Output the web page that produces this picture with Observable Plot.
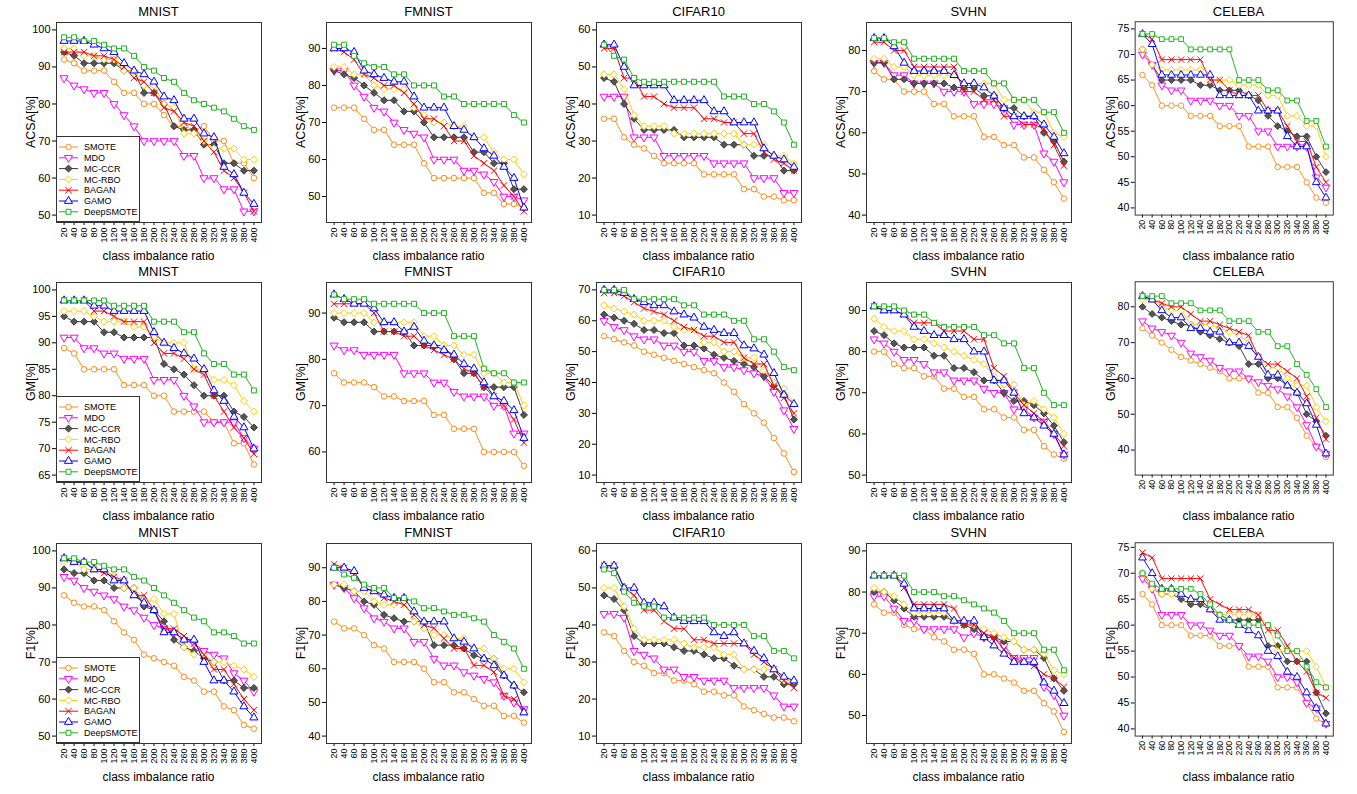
<!DOCTYPE html>
<html><head><meta charset="utf-8">
<script src="https://cdn.jsdelivr.net/npm/d3@7"></script>
<script src="https://cdn.jsdelivr.net/npm/@observablehq/plot@0.6"></script>
<style>
body{margin:0;background:#fff;font-family:"Liberation Sans",Arial,Helvetica,sans-serif;}
#root{position:relative;width:1357px;height:794px;overflow:hidden;background:#fff;}
.panel{position:absolute;}
.title{position:absolute;text-align:center;font-size:13px;line-height:16px;color:#000;white-space:nowrap;}
.xlab{position:absolute;text-align:center;font-size:12px;line-height:14px;color:#000;white-space:nowrap;}
.ylab{position:absolute;text-align:center;font-size:12.5px;line-height:14px;color:#000;white-space:nowrap;transform:rotate(-90deg);}
.legend{position:absolute;background:#fff;}
</style></head>
<body><div id="root"></div>
<script>
// ---------- data ----------
const ratios = [20,40,60,80,100,120,140,160,180,200,220,240,260,280,300,320,340,360,380,400];
const methods = ["SMOTE","MDO","MC-CCR","MC-RBO","BAGAN","GAMO","DeepSMOTE"];
const datasets = ["MNIST","FMNIST","CIFAR10","SVHN","CELEBA"];
const metrics = ["ACSA[%]","GM[%]","F1[%]"];

// y-axis tick labels per panel (rows: ACSA, GM, F1)
const ticksACSA = [[50,60,70,80,90,100],[50,60,70,80,90],[10,20,30,40,50,60],[40,50,60,70,80],[40,45,50,55,60,65,70,75]];
const ticksGM   = [[65,70,75,80,85,90,95,100],[60,70,80,90],[10,20,30,40,50,60,70],[50,60,70,80,90],[40,50,60,70,80]];
const ticksF1   = [[50,60,70,80,90,100],[40,50,60,70,80,90],[10,20,30,40,50,60],[50,60,70,80,90],[40,45,50,55,60,65,70,75]];
// axis limits per panel
const limACSA = [[50,100],[45,95],[10,60],[40,85],[40,75]];
const limGM   = [[65,100],[55,95],[10,70],[50,95],[35,85]];
const limF1   = [[50,100],[40,95],[10,60],[45,90],[40,74.5]];

const acsa_MNIST = {
  "SMOTE":     [92,91,89,89,89,86,83,83,80,80,77,74,74,73,74,70,70,64,64,60],
  "MDO":       [87,85,84,83,83,80,77,74,70,70,70,70,66,66,60,60,57,57,51,51],
  "MC-CCR":    [94,93,91,91,91,91,89,89,83,83,80,74,73,73,69,69,64,64,62,62],
  "MC-RBO":    [95,95,93,93,92,92,89,89,85,85,80,79,72,72,70,68,68,68,65,65],
  "BAGAN":     [94,94,94,93,93,92,90,87,86,83,79,78,75,74,70,67,62,60,56,51],
  "GAMO":      [97,97,97,96,95,94,91,89,88,86,82,81,76,76,72,71,63,61,56,53],
  "DeepSMOTE": [98,98,97,97,96,95,95,93,90,89,87,86,83,81,80,79,78,76,74,73]
};
const acsa_FMNIST = {
  "SMOTE":     [74,74,74,71,68,68,64,64,64,59,55,55,55,55,55,51,51,48,48,47],
  "MDO":       [84,84,80,77,74,73,70,68,67,66,60,60,60,57,57,56,54,50,50,49],
  "MC-CCR":    [84,83,82,80,78,76,76,73,73,70,66,66,66,66,62,62,59,59,52,52],
  "MC-RBO":    [85,85,83,83,80,79,79,79,74,72,70,70,69,69,66,66,62,60,60,56],
  "BAGAN":     [90,89,87,83,82,80,80,78,75,71,71,69,65,65,61,59,57,53,50,46],
  "GAMO":      [90,90,89,84,83,82,81,81,77,74,74,74,69,68,66,63,61,58,55,47],
  "DeepSMOTE": [91,91,88,86,85,85,83,83,80,80,80,77,77,75,75,75,75,75,72,70]
};
const acsa_CIFAR10 = {
  "SMOTE":     [36,36,31,29,28,26,24,24,24,24,21,21,21,21,17,17,15,15,14,14],
  "MDO":       [42,42,42,31,31,31,26,26,26,26,26,24,24,24,24,20,20,20,16,16],
  "MC-CCR":    [47,46,40,36,33,33,33,33,31,31,31,31,29,29,29,26,26,26,22,22],
  "MC-RBO":    [48,48,44,37,34,34,34,32,32,32,32,32,32,32,29,29,29,26,26,24],
  "BAGAN":     [55,55,47,47,42,42,40,39,39,39,36,36,35,35,32,32,27,25,24,22],
  "GAMO":      [56,56,50,45,45,45,45,41,41,41,41,38,38,35,35,35,28,26,25,23],
  "DeepSMOTE": [56,53,52,47,46,46,46,46,46,46,46,46,42,42,42,40,40,38,35,29]
};
const acsa_SVHN = {
  "SMOTE":     [75,73,73,70,70,70,67,67,64,64,64,59,59,57,57,54,54,51,48,44],
  "MDO":       [77,77,74,74,72,72,72,70,70,70,67,67,67,66,62,62,62,55,53,48],
  "MC-CCR":    [77,77,73,73,72,72,72,72,71,71,71,69,69,66,66,64,64,60,58,53],
  "MC-RBO":    [78,78,76,76,74,74,74,74,74,72,72,72,72,68,68,68,65,65,60,59],
  "BAGAN":     [82,82,80,80,76,76,76,76,76,70,70,68,68,64,64,62,62,61,57,52],
  "GAMO":      [83,83,81,77,75,75,75,75,74,72,72,71,69,66,64,64,64,62,59,55],
  "DeepSMOTE": [83,83,82,82,78,78,78,78,78,75,75,75,72,72,68,68,68,65,65,60]
};
const acsa_CELEBA = {
  "SMOTE":     [66,64,60,60,60,58,58,58,56,56,56,52,52,52,48,48,48,45,42,41],
  "MDO":       [70,68,64,63,63,61,61,61,60,60,58,58,55,55,52,52,52,52,46,44],
  "MC-CCR":    [71,68,65,65,65,65,64,64,63,63,63,62,61,58,56,55,54,54,50,47],
  "MC-RBO":    [71,68,67,67,67,67,67,65,65,65,64,64,64,62,62,58,58,56,56,50],
  "BAGAN":     [74,73,69,69,69,69,69,65,65,63,62,62,62,59,59,56,53,53,48,45],
  "GAMO":      [74,72,66,66,66,66,66,66,62,62,62,62,59,59,59,54,52,52,45,42],
  "DeepSMOTE": [74,74,73,73,73,71,71,71,71,71,65,65,65,63,63,61,61,57,57,52]
};

const gm_MNIST = {
  "SMOTE":     [89,88,85,85,85,85,82,82,82,80,80,77,77,77,77,75,75,71,71,67],
  "MDO":       [91,91,89,89,88,88,87,87,87,83,83,83,80,78,75,75,75,75,72,70],
  "MC-CCR":    [95,94,94,94,92,92,91,91,91,91,86,85,84,82,80,80,80,77,76,74],
  "MC-RBO":    [96,96,96,95,94,94,94,93,93,91,90,90,90,85,85,83,83,82,79,77],
  "BAGAN":     [98,98,98,96,96,95,94,94,94,90,88,88,87,85,84,80,77,74,72,69],
  "GAMO":      [98,98,98,97,97,96,96,96,96,92,90,89,88,87,85,81,79,76,74,70],
  "DeepSMOTE": [98,98,98,98,98,97,97,97,97,94,94,94,92,92,88,86,86,84,84,81]
};
const gm_FMNIST = {
  "SMOTE":     [77,75,75,75,74,72,72,71,71,71,68,68,65,65,65,60,60,60,60,57],
  "MDO":       [83,82,82,81,81,81,81,77,77,77,75,75,73,72,72,72,70,70,64,64],
  "MC-CCR":    [89,88,88,88,86,86,86,86,83,83,83,83,80,77,77,74,74,74,74,68],
  "MC-RBO":    [90,90,90,90,88,88,88,88,88,85,85,83,83,81,81,77,77,75,75,70],
  "BAGAN":     [92,92,92,92,90,86,86,85,85,83,82,81,80,78,77,74,72,70,67,62],
  "GAMO":      [94,93,92,92,91,88,88,86,87,84,83,82,81,79,78,75,72,71,69,63],
  "DeepSMOTE": [94,93,93,93,92,92,92,92,92,90,90,90,85,85,85,78,77,77,75,75]
};
const gm_CIFAR10 = {
  "SMOTE":     [55,54,53,52,50,49,48,47,46,45,44,43,40,37,33,30,27,22,17,11],
  "MDO":       [60,58,57,55,54,54,52,52,50,50,47,47,45,45,44,43,42,37,31,25],
  "MC-CCR":    [62,61,60,59,57,57,56,56,52,52,51,49,48,47,46,45,42,39,36,28],
  "MC-RBO":    [65,64,63,62,60,60,60,58,57,57,53,53,50,50,48,48,44,40,38,33],
  "BAGAN":     [69,69,68,66,64,63,62,60,58,57,55,55,53,53,48,46,46,39,35,30],
  "GAMO":      [70,70,69,67,66,65,65,63,62,61,58,57,56,56,52,51,49,43,36,33],
  "DeepSMOTE": [70,70,70,67,67,67,67,67,65,65,62,62,62,60,60,54,54,50,45,44]
};
const gm_SVHN = {
  "SMOTE":     [80,80,77,76,76,74,74,71,71,69,69,66,66,64,64,61,61,57,55,54],
  "MDO":       [83,82,80,78,78,77,75,75,73,73,73,71,70,70,66,66,64,63,60,55],
  "MC-CCR":    [85,84,82,81,81,81,79,79,76,76,75,73,73,70,68,68,67,65,62,58],
  "MC-RBO":    [88,86,85,85,83,83,82,81,80,79,78,77,74,72,72,67,68,66,64,60],
  "BAGAN":     [91,90,90,89,87,87,87,85,85,85,83,83,76,74,70,67,65,63,60,57],
  "GAMO":      [91,90,90,89,86,85,84,84,83,83,80,80,73,73,70,65,64,62,60,55],
  "DeepSMOTE": [91,91,91,90,89,89,87,86,86,86,86,84,84,82,82,76,76,70,67,67]
};
const gm_CELEBA = {
  "SMOTE":     [74,72,70,68,66,65,64,63,62,60,60,60,56,56,52,52,49,44,41,38],
  "MDO":       [76,74,73,72,70,67,66,65,63,62,62,60,59,58,57,55,52,47,41,39],
  "MC-CCR":    [80,78,77,76,75,75,73,72,71,70,69,64,64,60,60,58,56,50,48,44],
  "MC-RBO":    [82,82,80,79,79,75,75,75,74,73,72,70,66,63,63,60,58,58,52,48],
  "BAGAN":     [83,82,81,80,80,78,76,76,75,74,73,72,66,64,64,62,60,55,49,43],
  "GAMO":      [83,82,79,77,77,74,74,73,73,70,70,69,66,61,61,58,56,53,47,39],
  "DeepSMOTE": [83,83,83,81,81,81,79,79,79,76,76,76,73,73,69,69,64,61,57,52]
};

const f1_MNIST = {
  "SMOTE":     [88,86,85,85,84,81,78,76,72,71,70,69,66,65,62,62,58,57,53,52],
  "MDO":       [93,92,90,89,88,87,85,84,82,80,79,78,76,75,73,72,71,67,65,62],
  "MC-CCR":    [95,94,94,92,92,90,90,90,85,84,81,76,74,73,71,70,65,65,63,63],
  "MC-RBO":    [97,97,95,95,95,93,90,90,86,87,83,83,74,72,72,70,70,69,68,66],
  "BAGAN":     [98,97,97,95,94,93,92,88,88,84,79,79,77,75,72,68,68,64,60,57],
  "GAMO":      [98,97,97,95,95,92,92,88,86,84,78,78,76,76,70,65,65,62,58,55],
  "DeepSMOTE": [98,98,97,97,96,95,95,93,92,90,88,86,84,82,81,78,78,77,75,75]
};
const f1_FMNIST = {
  "SMOTE":     [74,72,72,70,67,66,62,62,62,60,56,56,53,53,51,49,49,46,46,44],
  "MDO":       [85,84,81,78,75,74,72,72,68,68,63,61,61,59,58,57,56,52,50,48],
  "MC-CCR":    [85,84,83,80,79,76,75,74,74,74,67,67,67,66,64,63,63,58,55,53],
  "MC-RBO":    [85,85,83,83,80,79,79,80,74,72,70,70,69,69,66,66,63,60,60,56],
  "BAGAN":     [91,90,88,84,83,81,80,79,76,73,72,69,66,66,61,61,59,52,51,47],
  "GAMO":      [90,90,89,84,83,82,81,81,77,74,74,74,69,68,66,63,61,58,55,47],
  "DeepSMOTE": [90,88,87,85,84,84,81,81,80,78,78,77,76,76,75,74,70,68,66,60]
};
const f1_CIFAR10 = {
  "SMOTE":     [38,37,33,30,29,27,27,25,25,24,22,22,21,21,18,17,16,15,15,14],
  "MDO":       [43,43,42,33,32,31,28,28,26,26,25,25,25,23,23,23,23,21,18,18],
  "MC-CCR":    [48,47,44,37,35,35,35,34,33,33,32,31,31,29,28,28,26,26,24,24],
  "MC-RBO":    [50,50,45,39,36,36,36,36,35,34,34,34,32,32,28,28,28,28,25,25],
  "BAGAN":     [56,56,50,48,44,44,41,39,39,36,36,35,35,35,35,32,30,28,25,23],
  "GAMO":      [56,56,50,50,46,46,45,42,41,41,41,38,37,38,35,33,31,28,26,25],
  "DeepSMOTE": [55,54,49,46,45,45,42,42,42,42,42,40,40,40,40,37,37,33,33,31]
};
const f1_SVHN = {
  "SMOTE":     [77,75,75,72,71,71,69,68,66,66,65,60,60,59,58,56,56,53,51,46],
  "MDO":       [79,79,76,73,73,71,71,71,71,69,70,69,69,67,64,64,64,57,55,50],
  "MC-CCR":    [80,80,78,76,74,74,74,74,73,72,71,69,69,68,68,66,66,64,59,56],
  "MC-RBO":    [81,80,79,77,75,75,75,75,73,73,72,71,70,69,68,66,66,65,61,60],
  "BAGAN":     [84,84,84,81,77,77,77,77,76,72,72,70,69,66,64,63,62,60,59,57],
  "GAMO":      [84,84,84,82,76,76,76,76,73,73,73,69,67,65,63,63,63,58,56,53],
  "DeepSMOTE": [84,84,84,84,80,80,80,79,79,78,77,76,75,73,70,70,70,66,66,61]
};
const f1_CELEBA = {
  "SMOTE":     [66,64,60,60,60,58,58,58,56,56,56,52,52,52,48,48,48,45,42,41],
  "MDO":       [69,67,62,62,62,60,60,59,58,58,56,54,54,53,50,50,49,45,44,41],
  "MC-CCR":    [70,67,66,66,65,64,64,63,62,61,61,61,61,56,56,53,53,53,47,43],
  "MC-RBO":    [70,67,66,66,66,65,65,63,62,62,62,62,62,60,55,55,55,55,52,48],
  "BAGAN":     [74,73,69,69,69,69,69,65,64,63,63,63,62,59,59,56,53,51,47,46],
  "GAMO":      [73,70,67,67,66,65,65,63,61,61,60,59,58,55,54,51,50,47,44,41],
  "DeepSMOTE": [70,68,67,67,67,67,66,64,62,61,60,60,60,60,58,55,55,52,49,48]
};

// ---------- assemble ----------
const panelData = [
  [acsa_MNIST, acsa_FMNIST, acsa_CIFAR10, acsa_SVHN, acsa_CELEBA],
  [gm_MNIST, gm_FMNIST, gm_CIFAR10, gm_SVHN, gm_CELEBA],
  [f1_MNIST, f1_FMNIST, f1_CIFAR10, f1_SVHN, f1_CELEBA]
];
const panelTicks = [ticksACSA, ticksGM, ticksF1];
const panelLims = [limACSA, limGM, limF1];

// ---------- styling / layout ----------
const FONT = '"Liberation Sans", Arial, Helvetica, sans-serif';
const FL = [56, 326, 596, 866, 1136];
const FT = [22, 282, 543];
const FW = 205, FH = 200;
const ML = 40, MR = 25, MT = 22, MB = 45;

const triangleDown = {
  draw(context, size) {
    const s3 = Math.sqrt(3);
    const y = -Math.sqrt(size / (s3 * 3));
    context.moveTo(0, -y * 2);
    context.lineTo(-s3 * y, y);
    context.lineTo(s3 * y, y);
    context.closePath();
  }
};
const diamondSq = {
  draw(context, size) {
    const h = Math.sqrt(size / 2);
    context.moveTo(0, -h);
    context.lineTo(h, 0);
    context.lineTo(0, h);
    context.lineTo(-h, 0);
    context.closePath();
  }
};
const style = {
  "SMOTE":     {color: "#ff8c1a", symbol: "circle",     fill: "white",   r: 2.8, d3sym: d3.symbolCircle},
  "MDO":       {color: "#ff00ff", symbol: triangleDown, fill: "white",   r: 3.0, d3sym: triangleDown},
  "MC-CCR":    {color: "#3a3a3a", symbol: diamondSq,    fill: "#555555", r: 2.8, d3sym: diamondSq},
  "MC-RBO":    {color: "#ffcc00", symbol: diamondSq,    fill: "white",   r: 2.8, d3sym: diamondSq},
  "BAGAN":     {color: "#ff0000", symbol: "times",      fill: "none",    r: 3.0, d3sym: d3.symbolTimes},
  "GAMO":      {color: "#0000ff", symbol: "triangle",   fill: "white",   r: 3.0, d3sym: d3.symbolTriangle},
  "DeepSMOTE": {color: "#1fb31f", symbol: "square",     fill: "white",   r: 2.8, d3sym: d3.symbolSquare}
};

const root = document.getElementById("root");

function addDiv(cls, text, css) {
  const d = document.createElement("div");
  d.className = cls;
  d.textContent = text;
  Object.assign(d.style, css);
  root.appendChild(d);
  return d;
}

function makeLegend(left, bottom) {
  const W = 84, H = 86;
  const svg = d3.create("svg").attr("width", W).attr("height", H)
    .attr("class", "legend")
    .style("left", left + "px").style("top", (bottom - H) + "px")
    .style("font-family", FONT);
  svg.append("rect").attr("x", 0.5).attr("y", 0.5).attr("width", W - 1).attr("height", H - 1)
    .attr("fill", "white").attr("stroke", "#333");
  methods.forEach((m, i) => {
    const s = style[m];
    const y = 11 + i * 10.8;
    svg.append("line").attr("x1", 3).attr("x2", 22).attr("y1", y).attr("y2", y)
      .attr("stroke", s.color).attr("stroke-width", 1);
    svg.append("path").attr("d", d3.symbol(s.d3sym, Math.PI * s.r * s.r)())
      .attr("transform", `translate(12.5,${y})`)
      .attr("fill", s.fill).attr("stroke", s.color).attr("stroke-width", 1);
    svg.append("text").attr("x", 28).attr("y", y).attr("dy", "0.35em")
      .attr("font-size", 9).attr("fill", "#000").text(m);
  });
  root.appendChild(svg.node());
}

metrics.forEach((metric, ri) => {
  datasets.forEach((ds, ci) => {
    const dataObj = panelData[ri][ci];
    const [lo, hi] = panelLims[ri][ci];
    const pad = 0.04 * (hi - lo);
    const marks = [];
    methods.forEach(m => {
      const s = style[m];
      const rows = ratios.map((x, i) => ({x, y: dataObj[m][i]}));
      marks.push(Plot.line(rows, {x: "x", y: "y", stroke: s.color, strokeWidth: 1}));
      marks.push(Plot.dot(rows, {x: "x", y: "y", symbol: s.symbol, r: s.r, stroke: s.color,
        fill: s.fill, strokeWidth: 1}));
    });
    const chart = Plot.plot({
      width: ML + FW + MR, height: MT + FH + MB,
      marginLeft: ML, marginRight: MR, marginTop: MT, marginBottom: MB,
      style: {fontFamily: FONT, fontSize: "11px", background: "transparent", overflow: "visible", color: "#000"},
      x: {domain: [20 - 0.04 * 380, 400 + 0.04 * 380]},
      y: {domain: [lo - pad, hi + pad]},
      marks: [
        Plot.axisY({ticks: panelTicks[ri][ci], tickSize: 4, tickPadding: 2, fontSize: 11, label: null}),
        Plot.axisX({ticks: ratios, tickSize: 3, tickPadding: 2, tickRotate: -90, fontSize: 9, label: null}),
        ...marks,
        Plot.frame({stroke: "#333", strokeWidth: 1})
      ]
    });
    const wrap = document.createElement("div");
    wrap.className = "panel";
    wrap.style.left = (FL[ci] - ML) + "px";
    wrap.style.top = (FT[ri] - MT) + "px";
    wrap.appendChild(chart);
    root.appendChild(wrap);

    addDiv("title", ds, {left: FL[ci] + "px", width: FW + "px", top: (FT[ri] - 18) + "px"});
    addDiv("xlab", "class imbalance ratio", {left: FL[ci] + "px", width: FW + "px", top: (FT[ri] + FH + 27) + "px"});
    addDiv("ylab", metric, {left: (FL[ci] - 25 - FH / 2) + "px", width: FH + "px", top: (FT[ri] + FH / 2 - 7) + "px"});

    if (ci === 0) makeLegend(FL[ci], FT[ri] + FH);
  });
});
</script>
</body></html>
